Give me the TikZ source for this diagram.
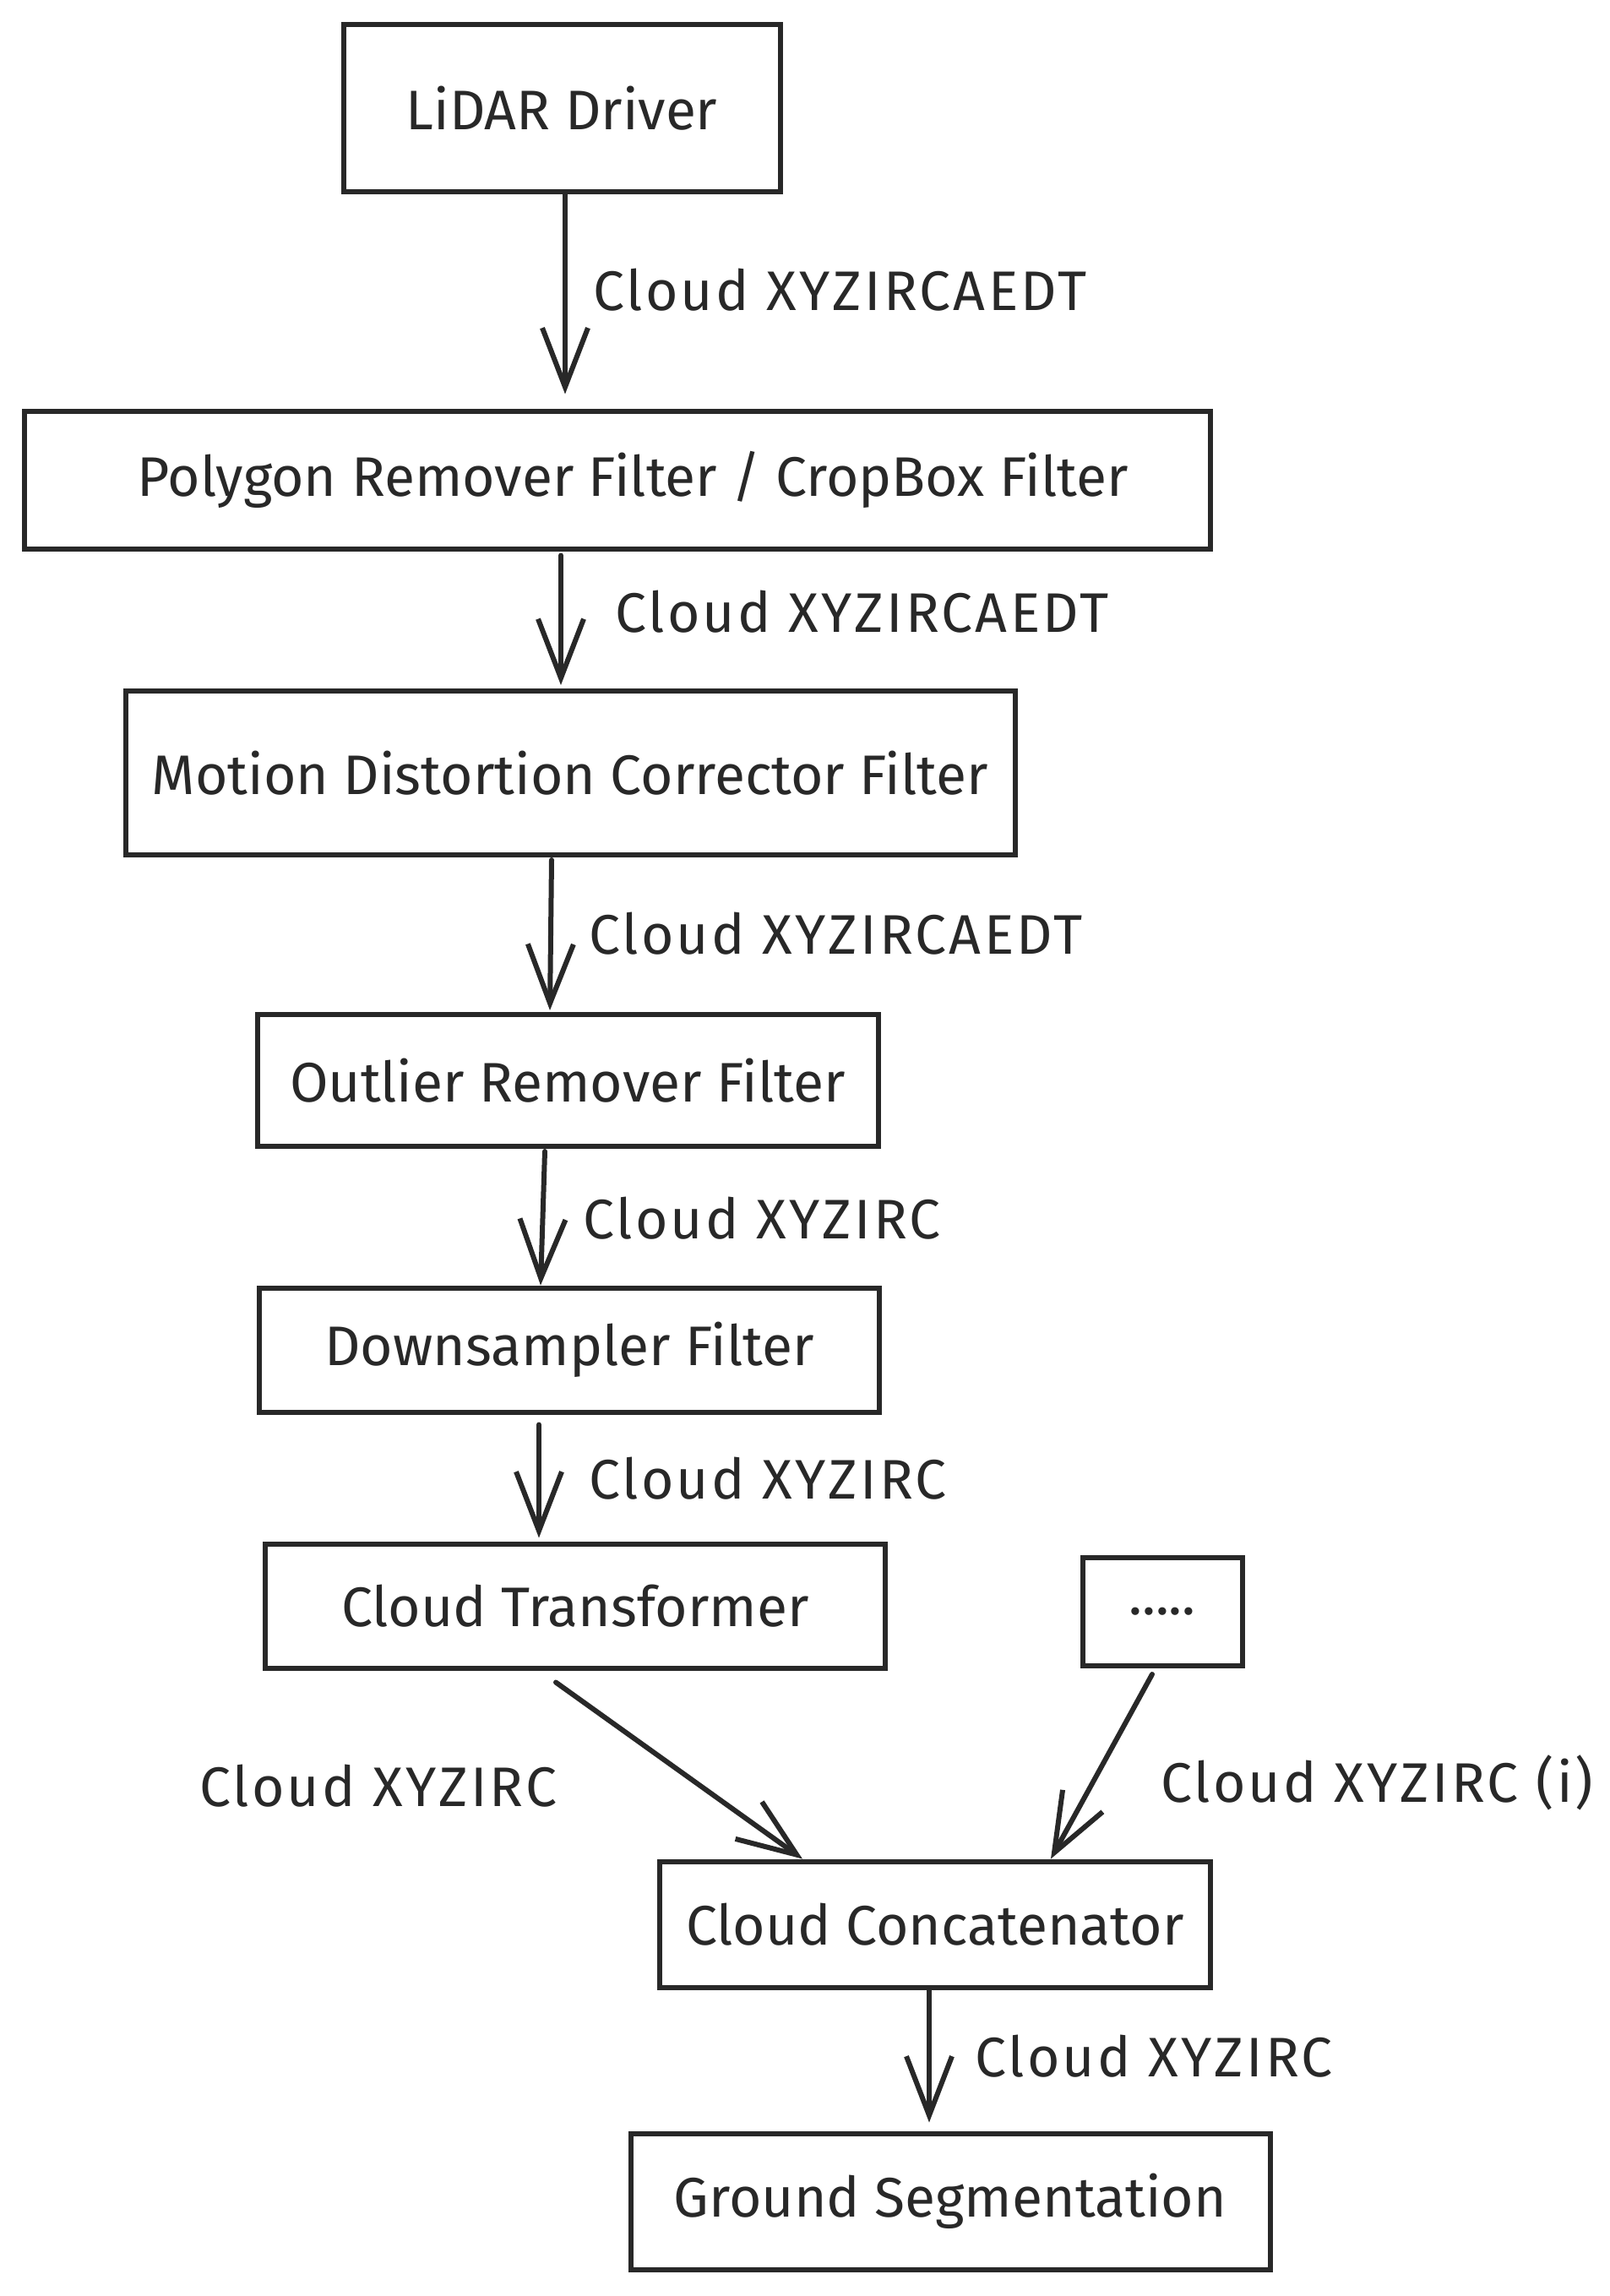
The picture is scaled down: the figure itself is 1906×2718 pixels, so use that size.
\documentclass[tikz,border=0pt]{standalone}
\usepackage{fontspec}
\setmainfont{Fira Sans}
\newfontfamily\lblfont[LetterSpace=5]{Fira Sans}
\usetikzlibrary{arrows.meta}
\definecolor{ink}{RGB}{40,40,40}
\tikzset{
  box/.style={draw=ink, line width=6pt, inner sep=0pt, text=ink, font=\fontsize{66}{70}\selectfont},
  arr/.style={draw=ink, line width=6pt, line cap=round, -{Straight Barb[length=70pt,width=54pt,line width=6pt]}},
  lbl/.style={anchor=west, inner sep=0pt, text=ink, font=\lblfont\fontsize{66}{70}\selectfont},
}
\begin{document}
\begin{tikzpicture}[x=1pt,y=-1pt]
\useasboundingbox (0,0) rectangle (1906,2718);
\fill[white] (0,0) rectangle (1906,2718);

% boxes
\node[box, minimum width=517pt, minimum height=198pt] (lidar) at (665,128) {LiDAR Driver};
\node[box, minimum width=1404pt, minimum height=163pt] (poly) at (731,568) {\hspace*{36pt}Polygon Remover Filter / CropBox Filter};
\node[box, minimum width=1053pt, minimum height=194pt] (motion) at (675,915) {Motion Distortion Corrector Filter};
\node[box, minimum width=735pt, minimum height=156pt] (outlier) at (672,1279) {Outlier Remover Filter};
\node[box, minimum width=734pt, minimum height=147pt] (down) at (674,1598) {Downsampler Filter};
\node[box, minimum width=734pt, minimum height=147pt] (trans) at (681,1901) {Cloud Transformer};
\node[box, minimum width=189pt, minimum height=128pt] (dots) at (1376,1908) {.....};
\node[box, minimum width=652pt, minimum height=149pt] (concat) at (1107,2278) {Cloud Concatenator};
\node[box, minimum width=757pt, minimum height=161pt] (ground) at (1125,2606) {Ground Segmentation};

% connectors
\draw[arr] ([xshift=4pt]lidar.south) -- ([xshift=-62pt,yshift=17pt]poly.north);
\draw[arr] ([xshift=-67pt,yshift=-5pt]poly.south) -- ([xshift=-11pt,yshift=4pt]motion.north);
\draw[arr] ([xshift=-22pt,yshift=-3pt]motion.south) -- ([xshift=-21pt,yshift=2pt]outlier.north);
\draw[arr] ([xshift=-27pt,yshift=-3pt]outlier.south) -- ([xshift=-34pt]down.north);
\draw[arr] ([xshift=-36pt,yshift=-12pt]down.south) -- ([xshift=-43pt,yshift=4pt]trans.north);
\draw[arr] ([xshift=-23pt,yshift=-14pt]trans.south) -- ([xshift=-157pt]concat.north);
\draw[arr] ([xshift=-12pt,yshift=-7pt]dots.south) -- ([xshift=137pt]concat.north);
\draw[arr] ([xshift=-7pt]concat.south) -- ([xshift=-25pt,yshift=10pt]ground.north);

% labels
\node[lbl] (l1) at (702,343) {Cloud XYZIRCAEDT};
\node[lbl] (l2) at (728,724) {Cloud XYZIRCAEDT};
\node[lbl] (l3) at (697,1105) {Cloud XYZIRCAEDT};
\node[lbl] (l4) at (690,1442) {Cloud XYZIRC};
\node[lbl] (l5) at (697,1750) {Cloud XYZIRC};
\node[lbl] (l6) at (236,2114) {Cloud XYZIRC};
\node[lbl] (l7) at (1374,2110) {Cloud XYZIRC (i)};
\node[lbl] (l8) at (1154,2434) {Cloud XYZIRC};
\end{tikzpicture}
\end{document}
